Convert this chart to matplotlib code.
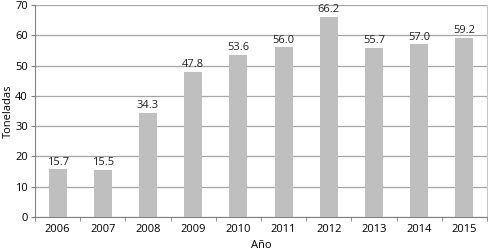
import numpy as np
import matplotlib.pyplot as plt

plt.rcParams['font.family'] = ['Open Sans', 'DejaVu Sans']

years = ['2006', '2007', '2008', '2009', '2010', '2011', '2012', '2013', '2014', '2015']
toneladas = [15.7, 15.5, 34.3, 47.8, 53.6, 56.0, 66.2, 55.7, 57.0, 59.2]

fig = plt.figure(figsize=(4.88, 2.52), dpi=100)
ax = fig.add_axes([35/488, 35/252, 452/488, 212/252])

x = np.arange(len(years))
ax.bar(x, toneladas, width=0.4, color='#bfbfbf', zorder=3)
for xi, v in zip(x, toneladas):
    ax.text(xi, v + 0.6, f'{v:.1f}', ha='center', va='bottom', fontsize=8, color='#222222', zorder=4)

ax.set_xlim(-0.5, len(years) - 0.5)
ax.set_ylim(0, 70)
ax.set_yticks(range(0, 71, 10))
ax.yaxis.grid(True, color='#a6a6a6', linewidth=0.9, zorder=0)
ax.set_xticks(x)
ax.set_xticklabels(years)
ax.set_xticks(np.arange(-0.5, len(years), 1), minor=True)
ax.tick_params(axis='x', which='major', length=0, labelsize=8, pad=5)
ax.tick_params(axis='x', which='minor', length=3, color='#808080')
ax.tick_params(axis='y', length=3, labelsize=8, color='#808080', pad=2)

ax.spines['top'].set_visible(False)
ax.spines['right'].set_color('#c8c8c8')
ax.spines['left'].set_color('#808080')
ax.spines['bottom'].set_color('#808080')

ax.set_xlabel('Año', fontsize=8, labelpad=4)
fig.text(8/488, (35 + 106)/252, 'Toneladas', rotation=90, ha='center', va='center', fontsize=8)

fig.savefig('out.png', dpi=100)
